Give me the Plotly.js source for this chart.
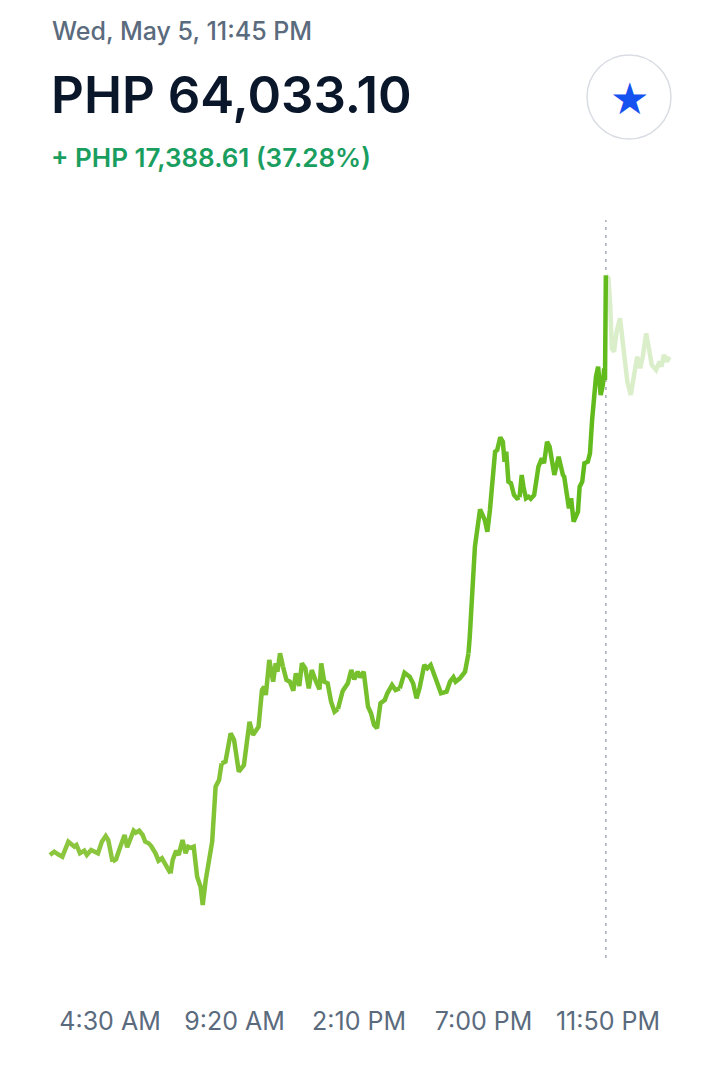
<!DOCTYPE html>
<html>
<head>
<meta charset="utf-8">
<script src="https://cdn.plot.ly/plotly-3.0.1.min.js"></script>
<style>
  html, body { margin: 0; padding: 0; background: #ffffff; }
  #chart { width: 719px; height: 1069px; }
</style>
</head>
<body>
<div id="chart"></div>
<script>
// ---------- data ----------
const headerDate = "Wed, May 5, 11:45 PM";
const headerPrice = "PHP 64,033.10";
const headerChange = "+ PHP 17,388.61 (37.28%)";
const hoverTime = "2021-05-05 23:45";

const tickTimes = ["2021-05-05 04:30", "2021-05-05 09:20", "2021-05-05 14:10", "2021-05-05 19:00", "2021-05-05 23:50"];
const tickLabels = ["4:30 AM", "9:20 AM", "2:10 PM", "7:00 PM", "11:50 PM"];

// solid part (up to the hovered point)
const pastTimes = [
  "02:10","02:20","02:29","02:39","02:53","03:01","03:07","03:12","03:20","03:30",
  "03:36","03:46","03:55","04:02","04:11","04:20","04:26","04:36","04:44","04:54",
  "05:04","05:10","05:17","05:25","05:30","05:38","05:46","05:52","06:00","06:06",
  "06:16","06:23","06:31","06:41","06:51","06:56","07:04","07:10","07:19","07:26",
  "07:32","07:38","07:45","07:53","08:01","08:06","08:13","08:22","08:28","08:36",
  "08:44","08:50","08:59","09:11","09:19","09:30","09:42","09:55","10:03","10:16",
  "10:24","10:29","10:33","10:41","10:50","10:56","11:00","11:06","11:13","11:21",
  "11:29","11:37","11:43","11:51","11:57","12:05","12:13","12:20","12:30","12:38",
  "12:42","12:49","12:57","13:05","13:13","13:21","13:32","13:44","13:52","13:59",
  "14:07","14:13","14:21","14:31","14:38","14:45","14:52","15:00","15:10","15:16",
  "15:27","15:35","15:45","15:56","16:08","16:16","16:24","16:31","16:42","16:49",
  "16:57","17:06","17:21","17:34","17:42","17:50","17:55","18:05","18:17","18:25",
  "18:28","18:40","18:52","19:03","19:09","19:15","19:27","19:32","19:39","19:45",
  "19:49","19:53","19:58","20:04","20:11","20:18","20:24","20:29","20:33","20:39",
  "20:45","20:50","20:58","21:08","21:16","21:21","21:28","21:34","21:45","21:55",
  "22:05","22:08","22:19","22:24","22:30","22:40","22:44","22:50","22:55","23:03",
  "23:08","23:13","23:17","23:22","23:27","23:33","23:38","23:41","23:43","23:45"
];
const pastPrices = [
  46644,46743,46665,46593,47043,46944,46893,46944,46695,46773,
  46644,46794,46743,46695,47043,47214,47094,46443,46515,46893,
  47244,46875,47115,47373,47313,47373,47244,47043,46995,46914,
  46695,46473,46545,46293,46095,46494,46773,46644,47094,46695,
  46893,46860,46893,45993,45693,45144,45894,46695,47043,48693,
  48894,49395,49443,50295,50094,49143,49344,50643,50244,50493,
  51594,51693,51444,52494,51843,52395,52143,52695,52293,51894,
  51843,51573,52095,51714,52395,52245,51645,52194,51843,51615,
  52395,51843,51795,51243,50943,51024,51564,51795,52194,51915,
  52143,51975,52143,51093,50895,50544,50445,51195,51294,51495,
  51744,51594,51645,52113,51993,51795,51345,51645,52344,52245,
  52344,51993,51495,51543,51843,51975,51843,51945,52143,52695,
  53193,55893,57015,56694,56343,56994,58743,58794,59175,59043,
  58443,58743,57843,57795,57444,57345,57375,58044,57693,57345,
  57393,57333,57444,58293,58545,58395,59043,58893,58044,58593,
  58044,57993,57045,57345,56643,56943,57693,57843,58395,58443,
  58695,59694,60294,60993,61293,60444,60744,61245,60894,64033.10
];

// faded part (after the hovered point)
const futureTimes = [
  "2021-05-05 23:45","2021-05-05 23:51","2021-05-05 23:55","2021-05-05 23:59",
  "2021-05-06 00:04","2021-05-06 00:10","2021-05-06 00:18","2021-05-06 00:26",
  "2021-05-06 00:35","2021-05-06 00:43","2021-05-06 00:53","2021-05-06 00:58",
  "2021-05-06 01:05","2021-05-06 01:11","2021-05-06 01:19","2021-05-06 01:24",
  "2021-05-06 01:32","2021-05-06 01:42","2021-05-06 01:50","2021-05-06 01:55",
  "2021-05-06 02:00","2021-05-06 02:07","2021-05-06 02:13"
];
const futurePrices = [
  64033.10,63950,63144,61845,61743,62343,62745,61845,60843,60444,
  61344,61593,61245,61593,62295,61845,61344,61194,61443,61293,
  61644,61443,61593
];

// ---------- build ----------
const pastX = pastTimes.map(t => "2021-05-05 " + t);

function lerpColor(a, b, t) {
  const pa = [1,3,5].map(i => parseInt(a.substr(i,2),16));
  const pb = [1,3,5].map(i => parseInt(b.substr(i,2),16));
  const c = pa.map((v,i) => Math.round(v + (pb[i]-v)*t));
  return "rgb(" + c.join(",") + ")";
}

const traces = [];
// faded future line first (underneath)
traces.push({
  type: "scatter", mode: "lines",
  x: futureTimes, y: futurePrices,
  line: { color: "#dbeeca", width: 4.5, shape: "linear" },
  hoverinfo: "skip", showlegend: false
});
// solid line split into chunks for a left-to-right colour gradient
const nSeg = 10;
const segLen = Math.ceil((pastX.length - 1) / nSeg);
for (let s = 0; s < nSeg; s++) {
  const i0 = s * segLen;
  const i1 = Math.min(pastX.length - 1, (s + 1) * segLen);
  if (i0 >= i1) break;
  traces.push({
    type: "scatter", mode: "lines",
    x: pastX.slice(i0, i1 + 1), y: pastPrices.slice(i0, i1 + 1),
    line: { color: lerpColor("#8cc63f", "#62bb1c", s / (nSeg - 1)), width: 4.5 },
    hoverinfo: "skip", showlegend: false
  });
}

// layout geometry (plot area in pixels)
const L = 40, R = 40, T = 200, B = 99, W = 719, H = 1069;
const PW = W - L - R, PH = H - T - B;
const px = v => (v - L) / PW;          // page x -> paper x
const py = v => (H - B - v) / PH;      // page y -> paper y

const font = "Inter, 'Noto Sans', Roboto, sans-serif";

const layout = {
  width: W, height: H,
  margin: { l: L, r: R, t: T, b: B, pad: 0 },
  paper_bgcolor: "#ffffff", plot_bgcolor: "#ffffff",
  showlegend: false, hovermode: false,
  xaxis: {
    type: "date",
    range: ["2021-05-05 01:46:57", "2021-05-06 02:35:23"],
    showgrid: false, zeroline: false, showline: false, ticks: "",
    tickvals: tickTimes, ticktext: tickLabels,
    tickfont: { family: font, size: 25, color: "#5b6b7e" },
    ticklabelstandoff: 34,
    fixedrange: true
  },
  yaxis: {
    range: [43194, 66294],
    visible: false, showgrid: false, zeroline: false, fixedrange: true
  },
  shapes: [
    { type: "line", xref: "x", yref: "paper", x0: hoverTime, x1: hoverTime,
      y0: py(958), y1: py(220),
      line: { color: "#a3acb8", width: 1.5, dash: "3px,5px" }, layer: "below" },
    { type: "circle", xref: "paper", yref: "paper",
      x0: px(587), x1: px(671), y0: py(139), y1: py(55),
      line: { color: "#d9dde3", width: 1.5 }, fillcolor: "#ffffff" }
  ],
  annotations: [
    { xref: "paper", yref: "paper", x: px(50), y: py(31), xanchor: "left", yanchor: "middle",
      text: headerDate, showarrow: false,
      font: { family: font, size: 25, color: "#5b6b7e", weight: 500 } },
    { xref: "paper", yref: "paper", x: px(49), y: py(94), xanchor: "left", yanchor: "middle",
      text: headerPrice, showarrow: false,
      font: { family: font, size: 51, color: "#0a1629", weight: 600 } },
    { xref: "paper", yref: "paper", x: px(49), y: py(157), xanchor: "left", yanchor: "middle",
      text: headerChange, showarrow: false,
      font: { family: font, size: 26, color: "#1a9e5f", weight: 600 } },
    { xref: "paper", yref: "paper", x: px(629), y: py(98), xanchor: "center", yanchor: "middle",
      text: "★", showarrow: false,
      font: { family: "DejaVu Sans, sans-serif", size: 44, color: "#1652f0" } }
  ]
};

Plotly.newPlot("chart", traces, layout, { displayModeBar: false, staticPlot: true });
</script>
</body>
</html>
